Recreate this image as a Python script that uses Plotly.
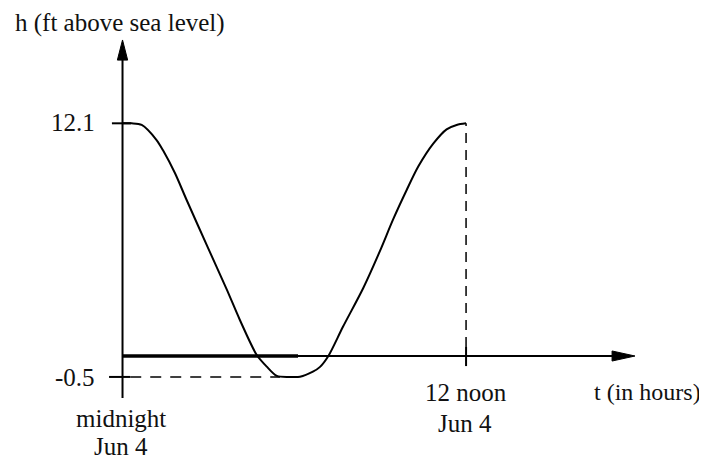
import plotly.graph_objects as go

# ---- data ----
t_hours = [0, 0.32, 0.67, 1.19, 1.41, 1.83, 2.24, 2.99, 3.64, 4.10, 4.69,
           5.04, 5.39, 5.85, 6.2, 6.65, 6.9, 7.19, 7.70, 8.41, 8.99, 9.46, 9.93,
           10.33, 10.86, 11.32, 11.67, 12.0]
h_feet = [12.1, 12.1, 12.02, 11.27, 10.77, 9.63, 8.29, 5.9, 3.85, 2.33, 0.59,
          0.01, -0.45, -0.5, -0.49, -0.24, 0.0, 0.54, 1.99, 3.92, 5.75, 7.35, 8.8,
          9.95, 11.1, 11.8, 12.02, 12.1]

h_max = 12.1
h_min = -0.5
t_noon = 12
h_tick_labels = ["12.1", "-0.5"]
x_tick_labels = [["midnight", "Jun 4"], ["12 noon", "Jun 4"]]
y_title = "h (ft above sea level)"
x_title = "t (in hours)"

# ---- layout constants (axis drawing); page body has an 8px margin ----
X_RANGE = [-4.0, 20.416]
Y_RANGE = [-4.924, 17.828]
AXIS_H = 0.54          # where the drawn t-axis crosses
Y_TOP = 16.24
Y_BOTTOM = -1.55
X_END = 17.9
FONT = dict(family="Liberation Serif, Times New Roman, serif", size=25, color="#111")

fig = go.Figure()
fig.add_trace(go.Scatter(x=t_hours, y=h_feet, mode="lines",
                         line=dict(color="black", width=2, shape="spline", smoothing=0.8),
                         hoverinfo="skip", showlegend=False))

shapes = []
black = "black"
# vertical axis
shapes.append(dict(type="line", x0=0, x1=0, y0=Y_BOTTOM, y1=Y_TOP - 0.6, line=dict(color=black, width=2)))
shapes.append(dict(type="path", path=f"M -0.18 {Y_TOP-1.0} L 0.18 {Y_TOP-1.0} L 0 {Y_TOP} Z",
                   fillcolor=black, line=dict(color=black, width=1)))
# horizontal axis (thick left part, thin right part)
shapes.append(dict(type="line", x0=0, x1=6.13, y0=AXIS_H, y1=AXIS_H, line=dict(color=black, width=3.5)))
shapes.append(dict(type="line", x0=6.13, x1=X_END - 0.5, y0=AXIS_H, y1=AXIS_H, line=dict(color=black, width=2)))
shapes.append(dict(type="path",
                   path=f"M {X_END-0.8} {AXIS_H-0.25} L {X_END-0.8} {AXIS_H+0.25} L {X_END} {AXIS_H} Z",
                   fillcolor=black, line=dict(color=black, width=1)))
# ticks
shapes.append(dict(type="line", x0=-0.37, x1=0.3, y0=h_max, y1=h_max, line=dict(color=black, width=2)))
shapes.append(dict(type="line", x0=-0.47, x1=0.27, y0=h_min, y1=h_min, line=dict(color=black, width=2)))
shapes.append(dict(type="line", x0=t_noon, x1=t_noon, y0=AXIS_H - 0.5, y1=AXIS_H + 0.45, line=dict(color=black, width=2)))
# dashed guides
shapes.append(dict(type="line", x0=0.27, x1=5.5, y0=h_min, y1=h_min,
                   line=dict(color=black, width=1.5, dash="11px,9px")))
shapes.append(dict(type="line", x0=t_noon, x1=t_noon, y0=AXIS_H + 0.45, y1=h_max,
                   line=dict(color=black, width=1.5, dash="10px,7px")))

ann = []
def txt(x, y, s, xa="center", size=25):
    f = dict(FONT)
    f["size"] = size
    ann.append(dict(x=x, y=y, text=s, showarrow=False, xanchor=xa, yanchor="middle", font=f))

txt(-0.89, h_max + 0.05, h_tick_labels[0], "right")
txt(-0.89, h_min - 0.05, h_tick_labels[1], "right")
txt(-0.05, -2.55, x_tick_labels[0][0])
txt(-0.05, -3.95, x_tick_labels[0][1])
txt(t_noon, -1.25, x_tick_labels[1][0])
txt(t_noon - 0.05, -2.8, x_tick_labels[1][1])
txt(16.4, -1.25, x_title, "left", 24)
txt(-3.82, 17.1, y_title, "left")

fig.update_layout(
    width=699, height=458,
    margin=dict(l=0, r=0, t=0, b=0),
    paper_bgcolor="white", plot_bgcolor="white",
    xaxis=dict(range=X_RANGE, visible=False, fixedrange=True),
    yaxis=dict(range=Y_RANGE, visible=False, fixedrange=True),
    shapes=shapes, annotations=ann, showlegend=False,
)
fig.write_html("out.html")
